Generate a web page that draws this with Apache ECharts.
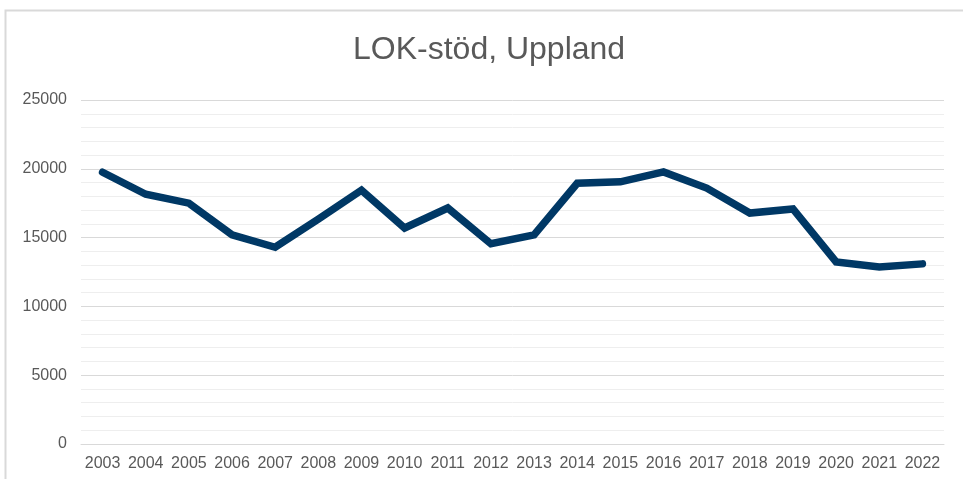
<!DOCTYPE html>
<html>
<head>
<meta charset="utf-8">
<script src="https://cdn.jsdelivr.net/npm/echarts@6/dist/echarts.min.js"></script>
<style>html,body{margin:0;padding:0;background:#fff}#c{width:963px;height:479px}</style>
</head>
<body>
<div id="c"></div>
<script>
const titleText = 'LOK-stöd, Uppland';
const years = ['2003','2004','2005','2006','2007','2008','2009','2010','2011','2012','2013','2014','2015','2016','2017','2018','2019','2020','2021','2022'];
const values = [19750, 18150, 17500, 15200, 14300, 16350, 18450, 15700, 17150, 14550, 15200, 18950, 19050, 19770, 18600, 16780, 17080, 13230, 12860, 13090];
const yTicks = [0, 5000, 10000, 15000, 20000, 25000];

const chart = echarts.init(document.getElementById('c'), null, {renderer: 'canvas'});
chart.setOption({
  animation: false,
  backgroundColor: '#ffffff',
  title: {
    text: titleText, left: 348, top: 29,
    textStyle: {fontFamily: 'Liberation Sans, Arial, sans-serif', fontSize: 32, fontWeight: 'normal', color: '#595959'}
  },
  graphic: [{
    type: 'rect', shape: {x: 5.5, y: 10.5, width: 970, height: 480},
    style: {fill: 'none', stroke: '#d9d9d9', lineWidth: 2}, silent: true, z: -1
  }],
  grid: {left: 81, right: 19, top: 100, bottom: 35},
  xAxis: {
    type: 'category', data: years, boundaryGap: true,
    axisLine: {show: true, lineStyle: {color: '#d9d9d9', width: 1}},
    axisTick: {show: false},
    axisLabel: {color: '#595959', fontSize: 16, fontFamily: 'Liberation Sans, Arial, sans-serif', margin: 12, interval: 0}
  },
  yAxis: {
    type: 'value', min: yTicks[0], max: yTicks[yTicks.length - 1], interval: 5000,
    axisLine: {show: false}, axisTick: {show: false},
    axisLabel: {color: '#595959', fontSize: 16, fontFamily: 'Liberation Sans, Arial, sans-serif', margin: 14,
      formatter: v => String(v)},
    splitLine: {lineStyle: {color: '#d9d9d9', width: 1}},
    minorTick: {show: false, splitNumber: 5},
    minorSplitLine: {show: true, lineStyle: {color: '#eeeeee', width: 1}}
  },
  series: [{
    type: 'line', data: values, symbol: 'none',
    lineStyle: {color: '#003865', width: 7.5, cap: 'round', join: 'miter'}
  }]
});
</script>
</body>
</html>
